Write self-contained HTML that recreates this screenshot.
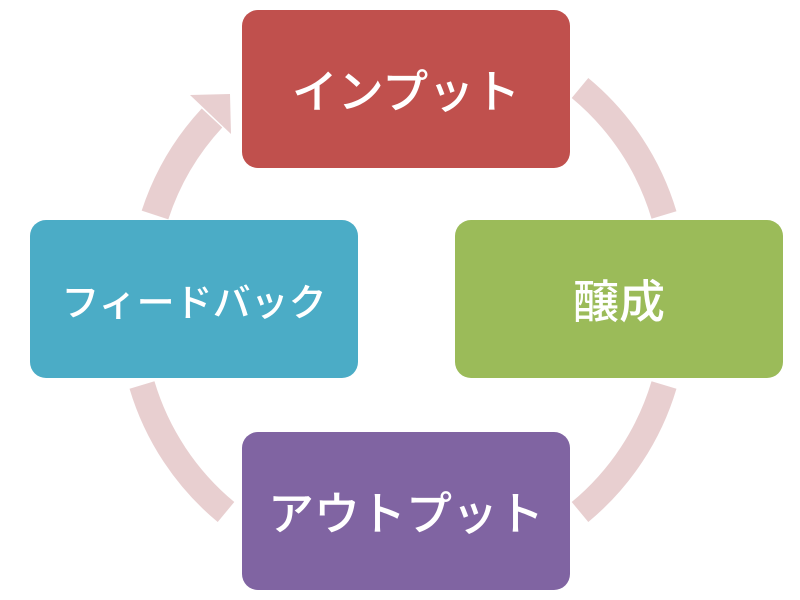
<!DOCTYPE html>
<html><head><meta charset="utf-8"><style>
html,body{margin:0;padding:0;background:#fff;width:800px;height:600px;overflow:hidden}
.b{position:absolute;border-radius:16px;color:#fff;display:flex;align-items:center;justify-content:center;font-family:"Noto Sans CJK JP","Liberation Sans",sans-serif;font-weight:500;width:328px;height:158px}
</style></head><body>
<svg width="800" height="600" style="position:absolute;left:0;top:0">
<path d="M155 215 A262 262 0 0 1 212 118" fill="none" stroke="#e8cfd0" stroke-width="28"/>
<polygon points="190,95 230,94 231,134" fill="#e8cfd0"/>
<path d="M580 88 A262 262 0 0 1 664 215" fill="none" stroke="#e8cfd0" stroke-width="26"/>
<path d="M664 385 A262 262 0 0 1 580 512" fill="none" stroke="#e8cfd0" stroke-width="26"/>
<path d="M226 512 A262 262 0 0 1 142 385" fill="none" stroke="#e8cfd0" stroke-width="26"/>
</svg>
<div class="b" style="left:242px;top:10px;background:#c0504d;font-size:46px">インプット</div>
<div class="b" style="left:455px;top:220px;background:#9bbb59;font-size:46px">醸成</div>
<div class="b" style="left:242px;top:432px;background:#8064a2;font-size:46px">アウトプット</div>
<div class="b" style="left:30px;top:220px;background:#4bacc6;font-size:38px">フィードバック</div>
</body></html>
